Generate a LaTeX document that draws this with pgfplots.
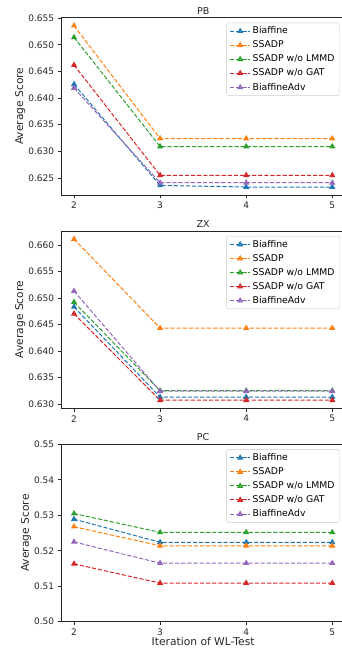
\documentclass[border=0pt]{standalone}
\usepackage{fontspec}
\setmainfont{DejaVu Sans}
\usepackage{pgfplots}
\pgfplotsset{compat=1.18}
\definecolor{c0}{HTML}{1F77B4}
\definecolor{c1}{HTML}{FF7F0E}
\definecolor{c2}{HTML}{2CA02C}
\definecolor{c3}{HTML}{D62728}
\definecolor{c4}{HTML}{9467BD}
\pgfplotsset{
  myaxis/.style={
    scale only axis, width=284.1pt, height=177.3pt,
    xmin=1.85, xmax=5.15, xtick={2,3,4,5},
    tick align=outside, tick pos=left, major tick length=3.5pt,
    axis line style={line width=0.75pt, black!85},
    every tick/.style={line width=0.75pt, black!85},
    scaled y ticks=false,
    /pgf/number format/assume math mode=true,
    tick label style={font=\fontsize{9}{10}\selectfont, text=black!85},
    label style={font=\fontsize{10.7}{12}\selectfont, text=black!85},
    ylabel shift=-4pt, xlabel shift=-5pt,
    title style={font=\fontsize{9.5}{11}\selectfont, text=black!85, yshift=-6pt},
    legend cell align=left,
    legend style={at={(1,1)}, anchor=north east, xshift=-5.5pt, yshift=-5pt,
      draw=black!20, rounded corners=2pt, fill=white, fill opacity=0.8, text opacity=1,
      font=\fontsize{9.3}{10.5}\selectfont, row sep=1.6pt, inner xsep=3pt, inner ysep=2pt},
    legend image code/.code={\draw[mark repeat=2, mark phase=2] plot coordinates {(0pt,0pt) (10pt,0pt) (20pt,0pt)};},
    every axis plot/.append style={line width=1pt, dash pattern=on 4.2pt off 1.9pt, mark=triangle*, mark size=2.6pt, mark options={solid}},
  },
}
\begin{document}
\begin{tikzpicture}
% ---------- PB ----------
\begin{axis}[myaxis, at={(61.1pt,456pt)}, anchor=south west, title={PB},
  ymin=0.6218, ymax=0.6551, ytick={0.625,0.630,0.635,0.640,0.645,0.650,0.655},
  yticklabel style={/pgf/number format/.cd, fixed, fixed zerofill, precision=3},
  ylabel={Average Score}]
\addplot[c0] coordinates {(2,0.6426) (3,0.6236) (4,0.6233) (5,0.6233)};
\addplot[c1] coordinates {(2,0.6536) (3,0.6324) (4,0.6324) (5,0.6324)};
\addplot[c2] coordinates {(2,0.6514) (3,0.6309) (4,0.6309) (5,0.6309)};
\addplot[c3] coordinates {(2,0.6462) (3,0.6255) (4,0.6255) (5,0.6255)};
\addplot[c4] coordinates {(2,0.6419) (3,0.6241) (4,0.6241) (5,0.6241)};
\legend{Biaffine, SSADP, SSADP w/o LMMD, SSADP w/o GAT, BiaffineAdv}
\end{axis}
% ---------- ZX ----------
\begin{axis}[myaxis, at={(61.1pt,242.7pt)}, anchor=south west, title={ZX},
  ymin=0.62918, ymax=0.66262, ytick={0.630,0.635,0.640,0.645,0.650,0.655,0.660},
  yticklabel style={/pgf/number format/.cd, fixed, fixed zerofill, precision=3},
  ylabel={Average Score}]
\addplot[c0] coordinates {(2,0.6483) (3,0.6313) (4,0.6313) (5,0.6313)};
\addplot[c1] coordinates {(2,0.6611) (3,0.6443) (4,0.6443) (5,0.6443)};
\addplot[c2] coordinates {(2,0.6492) (3,0.6325) (4,0.6325) (5,0.6325)};
\addplot[c3] coordinates {(2,0.6470) (3,0.6307) (4,0.6307) (5,0.6307)};
\addplot[c4] coordinates {(2,0.6513) (3,0.6324) (4,0.6324) (5,0.6324)};
\legend{Biaffine, SSADP, SSADP w/o LMMD, SSADP w/o GAT, BiaffineAdv}
\end{axis}
% ---------- PC ----------
\begin{axis}[myaxis, at={(61.1pt,29.3pt)}, anchor=south west, title={PC},
  ymin=0.50, ymax=0.55, ytick={0.50,0.51,0.52,0.53,0.54,0.55},
  yticklabel style={/pgf/number format/.cd, fixed, fixed zerofill, precision=2},
  ylabel={Average Score}, xlabel={Iteration of WL-Test}]
\addplot[c0] coordinates {(2,0.5289) (3,0.5224) (4,0.5224) (5,0.5224)};
\addplot[c1] coordinates {(2,0.5268) (3,0.5214) (4,0.5214) (5,0.5214)};
\addplot[c2] coordinates {(2,0.5305) (3,0.5252) (4,0.5252) (5,0.5252)};
\addplot[c3] coordinates {(2,0.5163) (3,0.5109) (4,0.5109) (5,0.5109)};
\addplot[c4] coordinates {(2,0.5225) (3,0.5165) (4,0.5165) (5,0.5165)};
\legend{Biaffine, SSADP, SSADP w/o LMMD, SSADP w/o GAT, BiaffineAdv}
\end{axis}
\pgfresetboundingbox
\path[use as bounding box] (0pt,0pt) rectangle (341pt,651pt);
\end{tikzpicture}
\end{document}
